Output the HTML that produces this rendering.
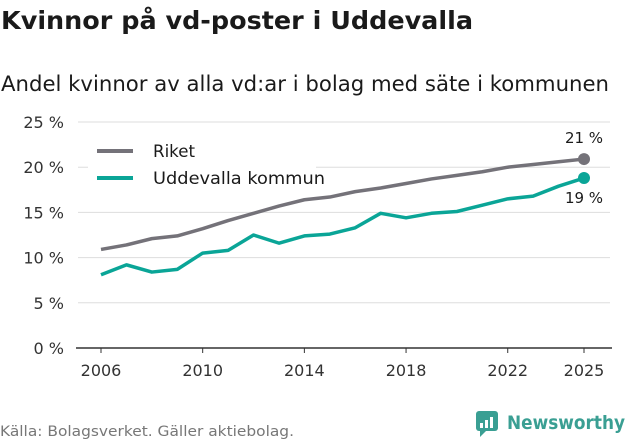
<!DOCTYPE html>
<html><head><meta charset="utf-8"><style>
body{margin:0;background:#fff;font-family:"DejaVu Sans","Liberation Sans",sans-serif;}
#wrap{position:relative;width:631px;height:439px;overflow:hidden;}
</style></head><body>
<div id="wrap">
<svg id="svg" width="631" height="439" font-family="DejaVu Sans, Liberation Sans, sans-serif">
<text x="1" y="29" font-size="25" font-weight="bold" fill="#1a1a1a" textLength="472" lengthAdjust="spacingAndGlyphs">Kvinnor på vd-poster i Uddevalla</text>
<text x="1" y="91" font-size="21" fill="#1a1a1a" textLength="608" lengthAdjust="spacingAndGlyphs">Andel kvinnor av alla vd:ar i bolag med säte i kommunen</text>
<g id="grid"></g>
<g id="lines"></g>
<g>
<rect x="88" y="136" width="228" height="56" fill="#fff"/>
<line x1="97" y1="151" x2="133" y2="151" stroke="#747279" stroke-width="4"/>
<text x="153" y="157" font-size="17" fill="#1a1a1a" textLength="42" lengthAdjust="spacingAndGlyphs">Riket</text>
<line x1="97" y1="178" x2="133" y2="178" stroke="#0aa597" stroke-width="4"/>
<text x="153" y="184" font-size="17" fill="#1a1a1a" textLength="172" lengthAdjust="spacingAndGlyphs">Uddevalla kommun</text>
</g>
<text x="0" y="436" font-size="14" fill="#777" textLength="294" lengthAdjust="spacingAndGlyphs">Källa: Bolagsverket. Gäller aktiebolag.</text>
<g>
<rect x="476" y="411" width="22" height="20" rx="3" fill="#3a9f93"/>
<path d="M480 431 L480 437 L486 431 Z" fill="#3a9f93"/>
<rect x="480" y="423" width="3" height="5" fill="#fff"/><rect x="485" y="420" width="3" height="8" fill="#fff"/><rect x="490" y="417" width="3" height="11" fill="#fff"/>
<text x="507" y="429" font-size="19" font-weight="bold" fill="#3a9f93" textLength="118" lengthAdjust="spacingAndGlyphs">Newsworthy</text>
</g>
</svg>
</div>
<script>
const years=[2006,2007,2008,2009,2010,2011,2012,2013,2014,2015,2016,2017,2018,2019,2020,2021,2022,2023,2024,2025];
const riket=[10.9,11.4,12.1,12.4,13.2,14.1,14.9,15.7,16.4,16.7,17.3,17.7,18.2,18.7,19.1,19.5,20.0,20.3,20.6,20.9];
const uddevalla=[8.1,9.2,8.4,8.7,10.5,10.8,12.5,11.6,12.4,12.6,13.3,14.9,14.4,14.9,15.1,15.8,16.5,16.8,17.9,18.8];
const yTicks=[0,5,10,15,20,25];
const xTicks=[2006,2010,2014,2018,2022,2025];
const endLabels=["21 %","19 %"];
const NS="http://www.w3.org/2000/svg";
const x=v=>101+(v-2006)*(584-101)/19;
const y=v=>348-v*(348-122)/25;
function mk(t,a,p){const e=document.createElementNS(NS,t);for(const k in a)e.setAttribute(k,a[k]);p.appendChild(e);return e;}
const grid=document.getElementById('grid'),lines=document.getElementById('lines');
yTicks.forEach(t=>{
 if(t>0){const l=mk('line',{x1:78,x2:610,y1:y(t),y2:y(t),stroke:'#ddd','stroke-width':1},grid);
 
 }
 const tx=mk('text',{x:64,y:y(t)+6,'font-size':16,fill:'#333','text-anchor':'end'},grid);tx.textContent=t+' %';
 
 
});
const ax=mk('line',{x1:76,x2:612,y1:348,y2:348,stroke:'#333','stroke-width':1.5},grid);


xTicks.forEach(t=>{
 mk('line',{x1:x(t),x2:x(t),y1:348,y2:353,stroke:'#333'},grid);
 const tx=mk('text',{x:x(t),y:376,'font-size':16,fill:'#333','text-anchor':'middle'},grid);tx.textContent=t;
 
 
});
[[riket,'#747279','riket'],[uddevalla,'#0aa597','uddevalla']].forEach(([d,c,n],i)=>{
 const p=mk('polyline',{points:d.map((v,j)=>x(years[j])+','+y(v)).join(' '),fill:'none',stroke:c,'stroke-width':3.5,'stroke-linejoin':'round'},lines);
 
 
 const last=d.length-1;
 const dot=mk('circle',{cx:x(years[last]),cy:y(d[last]),r:6,fill:c},lines);
 
 
 const lb=mk('text',{x:x(years[last]),y:i===0?y(d[last])-16:y(d[last])+25,'font-size':15,fill:'#1a1a1a','text-anchor':'middle'},lines);
 lb.textContent=endLabels[i];
 
 
});
</script>
</body></html>
